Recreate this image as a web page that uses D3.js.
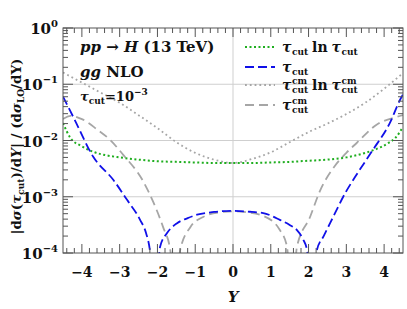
<!DOCTYPE html>
<html>
<head>
<meta charset="utf-8">
<script src="https://cdn.jsdelivr.net/npm/d3@7"></script>
<style>
  body { margin: 0; background: #fff; }
  text { font-family: "DejaVu Serif", serif; font-weight: bold; fill: #111; }
</style>
</head>
<body>
<svg id="chart" width="407" height="309"></svg>
<script>
'use strict';

// tau_cut ln tau_cut (green dotted)
const yGreen = [-4.5, -4.3, -4.0, -3.7, -3.3, -3.0, -2.5, -2.0, -1.5, -1.0, -0.5, 0, 0.5, 1.0, 1.5, 2.0, 2.5, 3.0, 3.5, 3.8, 4.1, 4.3, 4.5];
const vGreen = [0.0204, 0.011, 0.0079, 0.0063, 0.00537, 0.00501, 0.00457, 0.00427, 0.00417, 0.00407, 0.00398, 0.00398, 0.00398, 0.00407, 0.00417, 0.00437, 0.00457, 0.00501, 0.00603, 0.00708, 0.00891, 0.0112, 0.0174];

// tau_cut (blue dashed), |value|
const yBlue = [-4.5, -4.2, -3.7, -3.17, -2.8, -2.46, -2.3, -2.2, -2.07, -1.93, -1.75, -1.48, -1.2, -0.95, -0.5, 0, 0.5, 0.8, 1.24, 1.5, 1.69, 1.85, 1.96, 2.08, 2.22, 2.4, 2.57, 3.0, 3.23, 3.7, 4.15, 4.42, 4.5];
const vBlue = [0.0603, 0.024, 0.00513, 0.002, 8.71e-4, 3.89e-4, 2.24e-4, 1.12e-4, 1e-5, 1.29e-4, 2.24e-4, 3.39e-4, 4.17e-4, 4.79e-4, 5.37e-4, 5.62e-4, 5.37e-4, 5.13e-4, 3.89e-4, 3.16e-4, 2.57e-4, 1.78e-4, 1.12e-4, 1e-5, 1.12e-4, 2.0e-4, 3.39e-4, 0.00126, 0.00224, 0.00676, 0.0204, 0.0525, 0.0661];

// tau_cut^cm ln tau_cut^cm (gray dotted)
const yGrayDot = [-4.5, -4, -3.5, -3, -2.5, -2, -1.5, -1, -0.5, 0, 0.5, 1, 1.5, 2, 2.5, 3, 3.5, 4, 4.5];
const vGrayDot = [0.162, 0.107, 0.0708, 0.0468, 0.0282, 0.0166, 0.00933, 0.00603, 0.00457, 0.00398, 0.00468, 0.00617, 0.00933, 0.0141, 0.02, 0.0295, 0.0468, 0.0832, 0.158];

// tau_cut^cm (gray dashed), |value|
const yGrayDash = [-4.5, -4.3, -4.0, -3.6, -3.25, -2.9, -2.4, -2.1, -1.85, -1.66, -1.53, -1.40, -1.13, -0.79, -0.4, 0, 0.4, 0.8, 1.24, 1.43, 1.56, 1.69, 2.04, 2.3, 2.7, 3.0, 3.28, 3.8, 4.34, 4.5];
const vGrayDash = [0.024, 0.0275, 0.024, 0.0158, 0.0102, 0.0055, 0.002, 7.76e-4, 2.88e-4, 1.12e-4, 1e-5, 1.12e-4, 2.88e-4, 4.37e-4, 5.25e-4, 5.5e-4, 5.25e-4, 4.57e-4, 2.57e-4, 1.29e-4, 1e-5, 1.26e-4, 4.37e-4, 0.00126, 0.00355, 0.00603, 0.00912, 0.0191, 0.0263, 0.0282];

const xTicks = [-4, -3, -2, -1, 0, 1, 2, 3, 4];
const yTickExps = [0, -1, -2, -3, -4];

const margin = { left: 63, right: 403, top: 28, bottom: 253 };
const svg = d3.select('#chart');

const x = d3.scaleLinear().domain([-4.5, 4.5]).range([margin.left, margin.right]);
const y = d3.scaleLog().domain([1e-4, 1]).range([margin.bottom, margin.top]);

svg.append('defs').append('clipPath').attr('id', 'clip')
    .append('rect')
    .attr('x', margin.left).attr('y', margin.top)
    .attr('width', margin.right - margin.left).attr('height', margin.bottom - margin.top);

// grid
const grid = svg.append('g').attr('stroke', '#cfcfcf').attr('stroke-width', 1);
[1e-1, 1e-2, 1e-3].forEach((v) => {
    grid.append('line').attr('x1', margin.left).attr('x2', margin.right)
        .attr('y1', y(v)).attr('y2', y(v));
});
grid.append('line').attr('x1', x(0)).attr('x2', x(0))
    .attr('y1', margin.top).attr('y2', margin.bottom);

// curves
function drawCurve(xs, vs, color, dash, width)
{
    const pts = xs.map((d, i) => [d, vs[i]]);
    const line = d3.line()
        .x((d) => x(d[0]))
        .y((d) => y(d[1]))
        .curve(d3.curveMonotoneX);
    svg.append('path')
        .attr('clip-path', 'url(#clip)')
        .attr('d', line(pts))
        .attr('fill', 'none')
        .attr('stroke', color)
        .attr('stroke-width', width)
        .attr('stroke-dasharray', dash);
}

drawCurve(yGrayDot, vGrayDot, '#a6a6a6', '1.8,3', 1.8);
drawCurve(yGrayDash, vGrayDash, '#a6a6a6', '9,5', 1.8);
drawCurve(yGreen, vGreen, '#1fae1f', '2,2.5', 2);
drawCurve(yBlue, vBlue, '#1010e8', '9,4', 1.8);

// frame + ticks
const axis = svg.append('g').attr('stroke', '#555').attr('stroke-width', 1);
axis.append('rect')
    .attr('x', margin.left).attr('y', margin.top)
    .attr('width', margin.right - margin.left).attr('height', margin.bottom - margin.top)
    .attr('fill', 'none');

for (let i = -22; i <= 22; i++)
{
    const t = i / 5;
    const len = (i % 5 === 0) ? 9 : 5;
    axis.append('line').attr('x1', x(t)).attr('x2', x(t))
        .attr('y1', margin.bottom).attr('y2', margin.bottom - len);
    axis.append('line').attr('x1', x(t)).attr('x2', x(t))
        .attr('y1', margin.top).attr('y2', margin.top + len);
}
for (let e = -4; e <= 0; e++)
{
    for (let m = 1; m <= 9; m++)
    {
        const v = m * Math.pow(10, e);
        if (v > 1) continue;
        const len = (m === 1) ? 10 : 5;
        axis.append('line').attr('x1', margin.left).attr('x2', margin.left + len)
            .attr('y1', y(v)).attr('y2', y(v));
        axis.append('line').attr('x1', margin.right).attr('x2', margin.right - len)
            .attr('y1', y(v)).attr('y2', y(v));
    }
}

// tick labels
svg.selectAll('.xlab').data(xTicks).enter().append('text')
    .attr('class', 'xlab')
    .attr('x', (d) => x(d))
    .attr('y', 277)
    .attr('text-anchor', 'middle')
    .style('font-size', '14px')
    .text((d) => (d < 0 ? '\u2212' + (-d) : d));

const ylab = svg.selectAll('.ylab').data(yTickExps).enter().append('text')
    .attr('class', 'ylab')
    .attr('x', 58)
    .attr('y', (d) => y(Math.pow(10, d)) + 6)
    .attr('text-anchor', 'end')
    .style('font-size', '15px');
ylab.append('tspan').text('10');
ylab.append('tspan').attr('dy', -7).style('font-size', '10px')
    .text((d) => (d < 0 ? '\u2212' + (-d) : d));

// axis titles
svg.append('text')
    .attr('x', x(0)).attr('y', 302)
    .attr('text-anchor', 'middle')
    .style('font-size', '15px').style('font-style', 'italic')
    .text('Y');

const yt = svg.append('text')
    .attr('transform', 'translate(21,' + ((margin.top + margin.bottom) / 2 + 6) + ') rotate(-90)')
    .attr('text-anchor', 'middle')
    .style('font-size', '13.5px');
yt.append('tspan').text('|d');
yt.append('tspan').style('font-style', 'italic').text('σ');
yt.append('tspan').text('(');
yt.append('tspan').style('font-style', 'italic').text('τ');
yt.append('tspan').attr('dy', 3).style('font-size', '9px').text('cut');
yt.append('tspan').attr('dy', -3).text(')/d');
yt.append('tspan').style('font-style', 'italic').text('Y');
yt.append('tspan').text('| / (d');
yt.append('tspan').style('font-style', 'italic').text('σ');
yt.append('tspan').attr('dy', 3).style('font-size', '9px').text('LO');
yt.append('tspan').attr('dy', -3).text('/dY)');

// annotations
const t1 = svg.append('text').attr('x', 80).attr('y', 52).style('font-size', '15px');
t1.append('tspan').style('font-style', 'italic').text('pp');
t1.append('tspan').text(' → ');
t1.append('tspan').style('font-style', 'italic').text('H');
t1.append('tspan').text(' (13 TeV)');

const t2 = svg.append('text').attr('x', 80).attr('y', 77).style('font-size', '15px');
t2.append('tspan').style('font-style', 'italic').text('gg');
t2.append('tspan').text(' NLO');

const t3 = svg.append('text').attr('x', 80).attr('y', 101).style('font-size', '13px');
t3.append('tspan').style('font-style', 'italic').text('τ');
t3.append('tspan').attr('dy', 3).style('font-size', '9px').text('cut');
t3.append('tspan').attr('dy', -3).text('=10');
t3.append('tspan').attr('dy', -6).style('font-size', '9px').text('−3');

// legend
const legendRows = [
    { color: '#1fae1f', dash: '2,2.5', sup: '', log: true, ly: 47 },
    { color: '#1010e8', dash: '9,4', sup: '', log: false, ly: 67 },
    { color: '#a6a6a6', dash: '1.8,3', sup: 'cm', log: true, ly: 85 },
    { color: '#a6a6a6', dash: '9,5', sup: 'cm', log: false, ly: 105 }
];

// place one piece of text at (px, py) and return its width
function piece(px, py, str, size, italic)
{
    const t = svg.append('text').attr('x', px).attr('y', py)
        .style('font-size', size + 'px')
        .style('font-style', italic ? 'italic' : 'normal')
        .text(str);
    return t.node().getComputedTextLength();
}

function tau(px, base, sup)
{
    let cx = px + piece(px, base, 'τ', 14, true) + 0.5;
    let w = piece(cx, base + 3, 'cut', 9, false);
    if (sup) w = Math.max(w, piece(cx, base - 6, sup, 9, false));
    return cx + w;
}

legendRows.forEach((r) => {
    svg.append('line')
        .attr('x1', 245).attr('x2', 275).attr('y1', r.ly).attr('y2', r.ly)
        .attr('stroke', r.color).attr('stroke-width', 2).attr('stroke-dasharray', r.dash);
    const base = r.ly + 5;
    let cx = tau(282, base, r.sup);
    if (r.log)
    {
        cx += 4;
        cx += piece(cx, base, 'ln', 14, false) + 4;
        tau(cx, base, r.sup);
    }
});
</script>
</body>
</html>
